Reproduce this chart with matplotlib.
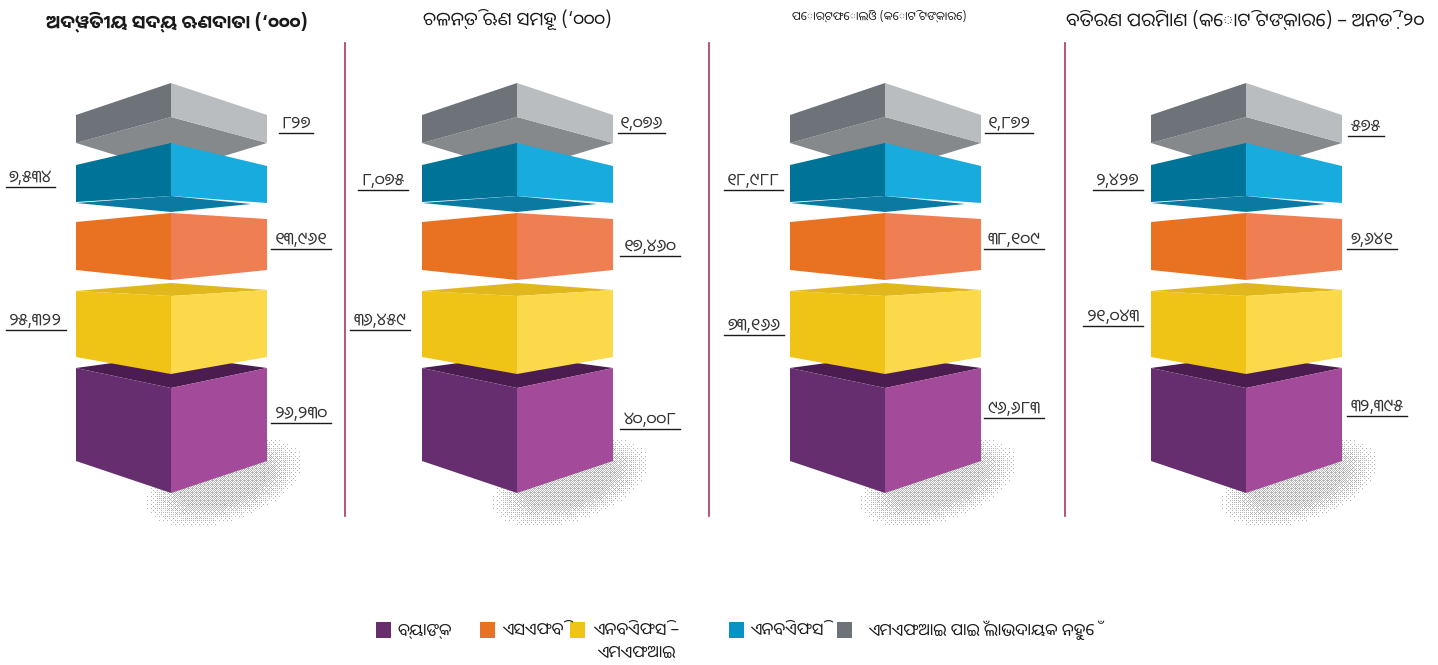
import numpy as np
import matplotlib
matplotlib.use('Agg')
import matplotlib.pyplot as plt
from matplotlib.patches import Polygon, Rectangle

plt.rcParams['font.family'] = ['Noto Sans Oriya UI', 'DejaVu Sans']

titles = ['ଅଦ୍ୱିତୀୟ ସଦ୍ୟ ଋଣଦାତା (‘୦୦୦)', 'ଚଳନ୍ତି ଋଣ ସମୂହ (‘୦୦୦)',
          'ପୋର୍ଟଫୋଲିଓ (କୋଟି ଟଙ୍କାରେ)', 'ବିତରଣ ପରିମାଣ (କୋଟି ଟଙ୍କାରେ) – ଅନଡ଼ି ‘୨୦']
not_for_profit = ['୮୨୭', '୧,୦୭୬', '୧,୮୭୨', '୫୭୫']
nbfc = ['୭,୫୩୪', '୮,୦୭୫', '୧୮,୯୮୮', '୨,୪୨୭']
sfb = ['୧୩,୯୬୧', '୧୭,୪୬୦', '୩୮,୧୦୯', '୭,୬୪୧']
nbfc_mfi = ['୨୫,୩୨୨', '୩୬,୪୫୯', '୭୩,୧୬୬', '୨୧,୦୪୩']
banks = ['୨୬,୨୩୦', '୪୦,୦୦୮', '୯୬,୬୮୩', '୩୨,୩୯୫']
legend_labels = ['ବ୍ୟାଙ୍କ', 'ଏସଏଫବି', 'ଏନବିଏଫସି –\nଏମଏଫଆଇ', 'ଏନବିଏଫସି', 'ଏମଏଫଆଇ ପାଇଁ ଲାଭଦାୟକ ନୁହେଁ']

# cube centre of each panel, pixels
centres = [171, 517, 885, 1246]
dividers = [345, 709, 1065]
hl = 95
hr = 96

fig = plt.figure(figsize=(14.38, 6.65), dpi=100)
ax = fig.add_axes([0, 0, 1, 1])


def face(cx, pts, color, z):
    ax.add_patch(Polygon([(cx + x, y) for x, y in pts], closed=True, fc=color, ec='none', zorder=z))


# halftone blob behind the bottom cube, ordered dither on a 1px grid
bayer = np.array([[0, 8, 2, 10], [12, 4, 14, 6], [3, 11, 1, 9], [15, 7, 13, 5]]) / 16.0
yy, xx = np.mgrid[430:530, -30:135]
ang = np.radians(-18)
u = (xx - 53) * np.cos(ang) + (yy - 482) * np.sin(ang)
v = -(xx - 53) * np.sin(ang) + (yy - 482) * np.cos(ang)
d = np.sqrt((u / 78.0) ** 2 + (v / 37.0) ** 2)
thresh = bayer[yy % 4, xx % 4]
rgba = np.zeros(d.shape + (4,))
rgba[..., :3] = 0.68
rgba[..., 3] = (np.clip((1.05 - d) * 1.1, 0, 0.56) > thresh) * 0.9


def shadow(cx):
    ax.imshow(rgba, extent=[cx - 30, cx + 135, 530, 430], interpolation='nearest', aspect='auto', zorder=1)


for cx in centres:
    shadow(cx)
    # not for profit
    face(cx, [(-hl, 143), (0, 117), (hr, 143), (0, 172)], '#85898c', 2)
    face(cx, [(-hl, 115), (0, 83), (0, 117), (-hl, 143)], '#6d7379', 3)
    face(cx, [(0, 83), (hr, 115), (hr, 143), (0, 117)], '#b9bdbf', 3)
    # nbfc
    face(cx, [(-hl, 203), (0, 196), (80, 204), (0, 212)], '#0b7aa3', 4)
    face(cx, [(-hl, 165), (0, 143), (0, 196), (-hl, 202)], '#007399', 5)
    face(cx, [(0, 143), (hr, 166), (hr, 203), (0, 196)], '#17acdd', 5)
    # sfb
    face(cx, [(-hl, 222), (0, 213), (0, 280), (-hl, 270)], '#e87222', 5)
    face(cx, [(0, 213), (hr, 219), (hr, 270), (0, 280)], '#ef7f53', 5)
    # nbfc-mfi
    face(cx, [(-hl, 291), (0, 283), (hr, 290), (0, 296)], '#e0b81e', 5)
    face(cx, [(-hl, 291), (0, 296), (0, 374), (-hl, 357)], '#f0c416', 6)
    face(cx, [(0, 296), (hr, 290), (hr, 357), (0, 374)], '#fcd94b', 6)
    # banks
    face(cx, [(-hl, 368), (0, 355), (hr, 368), (0, 388)], '#4b1c4f', 4)
    face(cx, [(-hl, 368), (0, 388), (0, 493), (-hl, 461)], '#662e6e', 5)
    face(cx, [(0, 388), (hr, 368), (hr, 461), (0, 493)], '#a44a9a', 5)

for x in dividers:
    ax.plot([x, x], [43, 516], color='#a83a58', lw=1.2, zorder=1)

title_x = [177, 517, 879, 1245]
title_y = [23, 21, 17, 22]
title_size = [13.4, 13.5, 8.5, 13.7]
title_weight = ['bold', 'normal', 'normal', 'normal']
for t, x, y, s, w in zip(titles, title_x, title_y, title_size, title_weight):
    ax.text(x, y, t, ha='center', va='center', fontsize=s, fontweight=w, color='#1a1a1a')

# value labels: left edge, right edge and underline y of each, by panel
label_x0 = [[279, 6, 271, 6, 271], [618, 358, 620, 350, 620], [985, 724, 984, 724, 984], [1348, 1093, 1347, 1083, 1347]]
label_x1 = [[313, 55, 331, 66, 331], [665, 408, 680, 410, 680], [1033, 783, 1044, 784, 1044], [1384, 1143, 1397, 1143, 1407]]
label_y = [[133, 187, 249, 330, 423], [133, 190, 256, 330, 429], [133, 190, 249, 335, 418], [136, 190, 249, 326, 416]]
series = [not_for_profit, nbfc, sfb, nbfc_mfi, banks]
for p in range(4):
    for i, vals in enumerate(series):
        x0, x1, y = label_x0[p][i], label_x1[p][i], label_y[p][i]
        ax.plot([x0, x1], [y, y], color='#1a1a1a', lw=1, zorder=7)
        ax.text((x0 + x1) / 2, y + 1, vals[p], ha='center', va='bottom', fontsize=12.5, color='#333333', zorder=7)

legend_colors = ['#672d6d', '#e87222', '#f0c416', '#0a92c5', '#6d7379']
legend_box = [376, 480, 570, 729, 837]
legend_text = [397, 502, 593, 750, 868]
for lc, bx, tx, lab in zip(legend_colors, legend_box, legend_text, legend_labels):
    ax.add_patch(Rectangle((bx, 622), 15, 16, fc=lc, ec='none'))
    ax.text(tx, 622, lab, ha='left', va='top', multialignment='center', fontsize=12, color='#1a1a1a', linespacing=1.35)

ax.set_xlim(0, 1438)
ax.set_ylim(665, 0)
ax.axis('off')
fig.savefig('out.png', dpi=100)
